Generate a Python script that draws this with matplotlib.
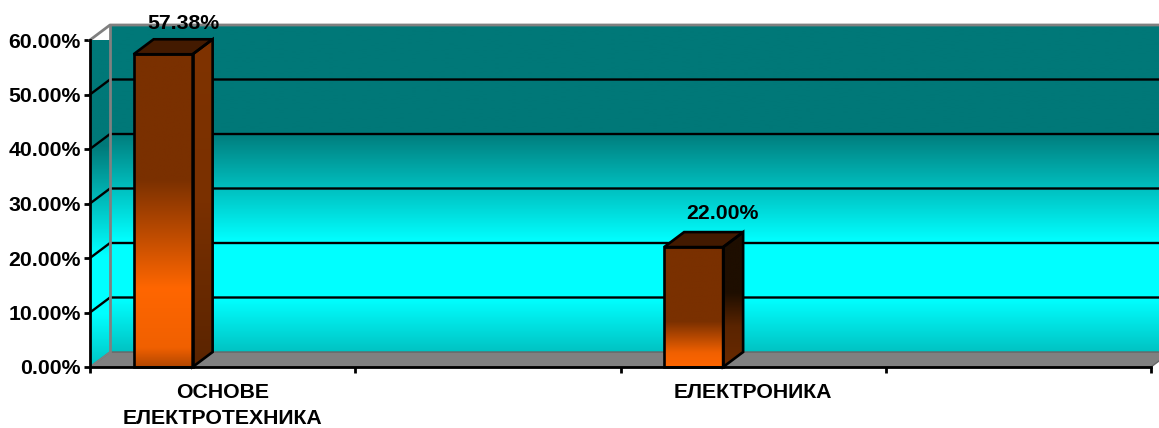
import matplotlib
matplotlib.use('Agg')
import matplotlib.pyplot as plt
from matplotlib.colors import LinearSegmentedColormap
from matplotlib.patches import Polygon
import numpy as np

plt.rcParams['font.family'] = ['Liberation Sans', 'DejaVu Sans']
plt.rcParams['font.weight'] = 'bold'

categories = ['ОСНОВЕ\nЕЛЕКТРОТЕХНИКА', '', 'ЕЛЕКТРОНИКА', '']
bar_slots = [0, 2]
values = [57.38, 22.00]
value_labels = ['57.38%', '22.00%']
y_ticks = [0, 10, 20, 30, 40, 50, 60]

W, H = 1159, 428
# front plane of the chart in pixels
left, right, bottom, top = 90, 1151, 367, 40
ppx = (right - left) / len(categories)
ppy = (bottom - top) / 60.0
dx = 20 / ppx
dy = 15 / ppy
bar_w = 59 / ppx
bar_shift = -89 / ppx
label_dx = [20 / ppx, 29 / ppx]

wall_cmap = LinearSegmentedColormap.from_list('wall', [
	(0, '#00c3c3'), (0.16, '#00ffff'), (0.34, '#00ffff'), (0.68, '#007878'), (1, '#007878')])
front1 = LinearSegmentedColormap.from_list('f1', [
	(0, '#b34700'), (0.06, '#f06000'), (0.25, '#ff6600'), (0.6, '#7a3000'), (1, '#7a3000')])
side1 = LinearSegmentedColormap.from_list('s1', [
	(0, '#5a2400'), (0.5, '#7a3000'), (1, '#7f3300')])
front2 = LinearSegmentedColormap.from_list('f2', [
	(0, '#ff6600'), (0.12, '#f06000'), (0.38, '#7a3000'), (1, '#7a3000')])
side2 = LinearSegmentedColormap.from_list('s2', [
	(0, '#6a2a00'), (0.3, '#5a2400'), (0.55, '#1e0e00'), (1, '#1e0e00')])
ramp = np.linspace(0, 1, 256).reshape(-1, 1)

fig = plt.figure(figsize=(W / 100, H / 100), dpi=100)
ax = fig.add_axes([left / W, 1 - bottom / H, (right - left) / W, (bottom - top) / H])


def gradient(pts, cmap, y0, y1, z):
	xs = [p[0] for p in pts]
	im = ax.imshow(ramp, cmap=cmap, origin='lower', aspect='auto', interpolation='bilinear',
		extent=(min(xs), max(xs), y0, y1), zorder=z)
	clip = Polygon(pts, closed=True, transform=ax.transData, fc='none', ec='none')
	ax.add_patch(clip)
	clip.set_clip_on(False)
	# image would stop at the axes box otherwise
	im.set_clip_box(fig.bbox)
	im.set_clip_path(clip)
	return im


n = len(categories)
# walls and floor
gradient([(0, 0), (dx, dy), (dx, 60 + dy), (0, 60)], wall_cmap, 0, 60, 1)
gradient([(dx, dy), (n + dx, dy), (n + dx, 60 + dy), (dx, 60 + dy)], wall_cmap, dy, 60 + dy, 1)
ax.add_patch(Polygon([(0, 0), (dx, dy), (n + dx, dy), (n, 0)], fc='#808080', ec='#666666', lw=1, zorder=2, clip_on=False))

for t in y_ticks[1:-1]:
	ax.plot([0, dx, n + dx], [t, t + dy, t + dy], color='black', lw=1.7, zorder=3, clip_on=False)
ax.plot([0, dx, n + dx], [60, 60 + dy, 60 + dy], color='#808080', lw=2, zorder=3, clip_on=False)
ax.plot([dx, dx], [dy, 60 + dy], color='#808080', lw=2, zorder=3, clip_on=False)
ax.plot([0, dx], [0, dy], color='#808080', lw=1.2, zorder=3, clip_on=False)

# bars
fronts = [front1, front2]
sides = [side1, side2]
tops = ['#431a00', '#431a00']
for i, v in enumerate(values):
	x0 = bar_slots[i] + 0.5 + bar_shift
	x1 = x0 + bar_w
	front = [(x0, 0), (x1, 0), (x1, v), (x0, v)]
	side = [(x1, 0), (x1 + dx, dy), (x1 + dx, v + dy), (x1, v)]
	roof = [(x0, v), (x1, v), (x1 + dx, v + dy), (x0 + dx, v + dy)]
	gradient(side, sides[i], 0, v + dy, 4)
	gradient(front, fronts[i], 0, v, 4)
	ax.add_patch(Polygon(roof, fc=tops[i], ec='black', lw=1.9, zorder=5, joinstyle='miter', clip_on=False))
	ax.add_patch(Polygon(side, fc='none', ec='black', lw=1.9, zorder=5, joinstyle='miter', clip_on=False))
	ax.add_patch(Polygon(front, fc='none', ec='black', lw=1.9, zorder=5, joinstyle='miter', clip_on=False))
	ax.annotate(value_labels[i], (x0 + bar_w / 2 + label_dx[i], v), xytext=(0, 22.5 + i * 2), textcoords='offset points',
		ha='center', va='center', fontsize=15.3, fontweight='bold', color='black', zorder=6, annotation_clip=False)

ax.set_xlim(0, n)
ax.set_ylim(0, 60)
ax.patch.set_visible(False)
for s in ['top', 'right']:
	ax.spines[s].set_visible(False)
for s in ['left', 'bottom']:
	ax.spines[s].set_linewidth(2)
	ax.spines[s].set_zorder(7)
ax.set_yticks(y_ticks)
ax.set_yticklabels(['%.2f%%' % t for t in y_ticks], fontsize=15.3, fontweight='bold')
ax.set_xticks(range(n + 1))
ax.set_xticklabels([])
ax.set_xticks(np.arange(n) + 0.5, minor=True)
ax.set_xticklabels(categories, minor=True, fontsize=15.3, fontweight='bold', linespacing=1.45)
ax.tick_params(axis='y', length=4.5, width=2, pad=2)
ax.tick_params(axis='x', which='major', length=4.5, width=2)
ax.tick_params(axis='x', which='minor', length=0, pad=11.5)

fig.savefig('out.png', dpi=100)
